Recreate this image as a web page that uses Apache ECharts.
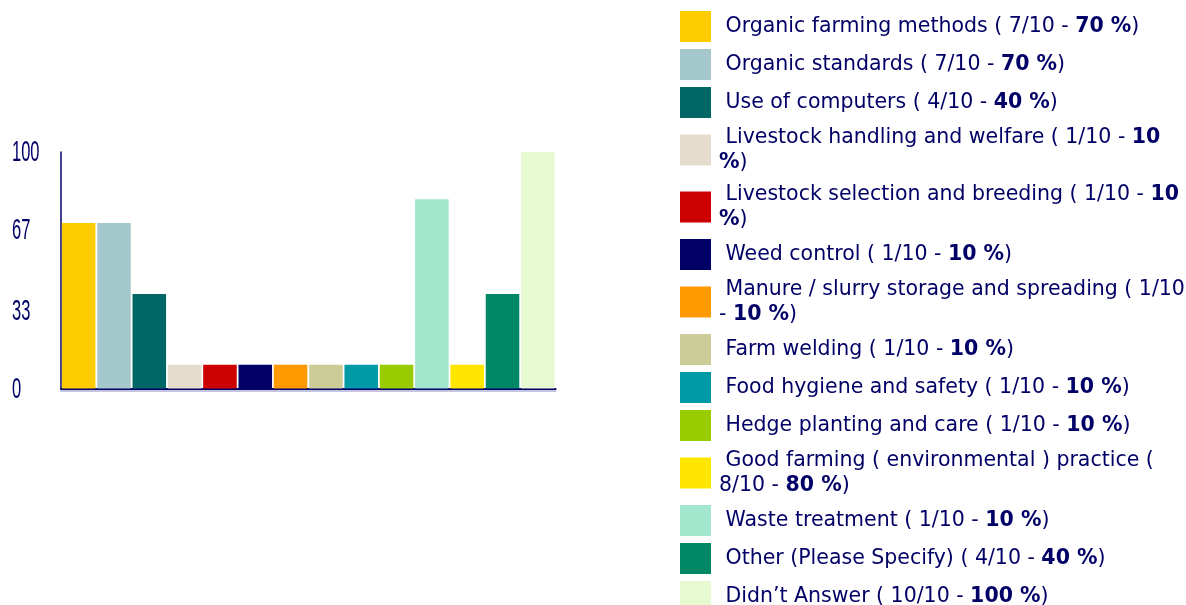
<!DOCTYPE html>
<html>
<head>
<meta charset="utf-8">
<script src="https://cdn.jsdelivr.net/npm/echarts@6/dist/echarts.min.js"></script>
<style>
html,body{margin:0;padding:0;background:#ffffff;}
#chart{width:1186px;height:605px;}
</style>
</head>
<body>
<div id="chart"></div>
<script>
// ---- data ----
const categories = [
  'Organic farming methods',
  'Organic standards',
  'Use of computers',
  'Livestock handling and welfare',
  'Livestock selection and breeding',
  'Weed control',
  'Manure / slurry storage and spreading',
  'Farm welding',
  'Food hygiene and safety',
  'Hedge planting and care',
  'Good farming ( environmental ) practice',
  'Waste treatment',
  'Other (Please Specify)',
  'Didn\u2019t Answer'
];
const counts = [7, 7, 4, 1, 1, 1, 1, 1, 1, 1, 8, 1, 4, 10];
const respondents = 10;
const percents = [70, 70, 40, 10, 10, 10, 10, 10, 10, 10, 80, 10, 40, 100];
const yTicks = [0, 33, 67, 100];

// ---- palette ----
const legendColors = ['#FFCC00','#A4C8CC','#006666','#E6DCCE','#CC0000','#000066','#FF9900','#CCCC99','#009AA6','#99CC00','#FFE600','#A2E6CE','#008866','#E6F9D0'];
// colours of the bars as they appear in the drawn chart (positions 11 and 12 differ from the legend)
const barColors    = ['#FFCC00','#A4C8CC','#006666','#E6DCCE','#CC0000','#000066','#FF9900','#CCCC99','#009AA6','#99CC00','#A2E6CE','#FFE600','#008866','#E6F9D0'];

const NAVY = '#000066';
const FONT = "'DejaVu Sans', Verdana, sans-serif";
const FS = 20.5;
const LH = 25;
const MAXW = 467;

const ctx = document.createElement('canvas').getContext('2d');
function measureSeq(seq) {
  let total = 0, buf = '', b = null;
  const flush = () => {
    if (!buf) return;
    ctx.font = (b ? 'bold ' : '') + FS + 'px ' + FONT;
    total += ctx.measureText(buf).width;
    buf = '';
  };
  seq.forEach(([ch, bold]) => { if (bold !== b) { flush(); b = bold; } buf += ch; });
  flush();
  return total;
}
function legendText(i) {
  const runs = [[' ' + categories[i] + ' ( ' + counts[i] + '/' + respondents + ' - ', 0], [percents[i] + ' %', 1], [')', 0]];
  const chars = [];
  runs.forEach(([t, bold]) => { for (const ch of t) chars.push([ch, bold]); });
  const words = [];
  let cur = { sep: null, chars: [] };
  chars.forEach(c => {
    if (c[0] === ' ') { words.push(cur); cur = { sep: c, chars: [] }; }
    else cur.chars.push(c);
  });
  words.push(cur);
  const lines = [];
  let line = null;
  words.forEach(wd => {
    if (line === null) { line = wd.chars.slice(); return; }
    const cand = line.concat([wd.sep], wd.chars);
    if (measureSeq(cand) <= MAXW) line = cand;
    else { lines.push(line); line = wd.chars.slice(); }
  });
  lines.push(line);
  return lines.map(l => {
    let out = '', buf = '', b = null;
    const flush = () => { if (buf) out += '{' + (b ? 'b' : 'n') + '|' + buf + '}'; buf = ''; };
    l.forEach(([ch, bold]) => { if (bold !== b) { flush(); b = bold; } buf += ch; });
    flush();
    return out;
  }).join('\n');
}

const chart = echarts.init(document.getElementById('chart'), null, { renderer: 'canvas' });

const option = {
  animation: false,
  backgroundColor: '#ffffff',
  grid: { left: 61, right: 630.5, top: 152, bottom: 216.5, containLabel: false },
  legend: {
    type: 'plain',
    orient: 'vertical',
    left: 680,
    top: 11,
    width: 500,
    height: 700,
    padding: 0,
    itemGap: 7,
    itemWidth: 31,
    itemHeight: 31,
    icon: 'rect',
    selectedMode: false,
    data: categories,
    itemStyle: { borderWidth: 0 },
    formatter: name => legendText(categories.indexOf(name)),
    textStyle: {
      color: NAVY, fontFamily: FONT, fontSize: FS, lineHeight: LH, padding: [0, 0, 0, 3],
      rich: {
        n: { color: NAVY, fontFamily: FONT, fontSize: FS, lineHeight: LH },
        b: { color: NAVY, fontFamily: FONT, fontSize: FS, lineHeight: LH, fontWeight: 'bold' }
      }
    }
  },
  xAxis: {
    type: 'category',
    data: categories,
    axisLine: { show: true, lineStyle: { color: NAVY, width: 2, shadowColor: 'rgba(90,90,170,0.35)', shadowOffsetY: 2, shadowBlur: 0 } },
    axisTick: { show: false },
    axisLabel: { show: false },
    splitLine: { show: false }
  },
  yAxis: {
    type: 'value',
    min: 0,
    max: 100,
    interval: 100 / 3,
    axisLine: { show: true, lineStyle: { color: NAVY, width: 1.5 } },
    axisTick: { show: false },
    axisLabel: { show: false },
    splitLine: { show: false }
  },
  series: categories.map((name, i) => ({
    type: 'bar',
    name: name,
    stack: 'all',
    barCategoryGap: '5%',
    itemStyle: { color: legendColors[i] },
    emphasis: { disabled: true },
    data: categories.map((c, j) => j === i ? { value: percents[j], itemStyle: { color: barColors[j] } } : null)
  }))
};
chart.setOption(option);

// y axis tick labels (tall, narrow digits), placed through the axis scale
chart.setOption({
  graphic: yTicks.map(v => ({
    type: 'text',
    x: 12,
    y: chart.convertToPixel({ yAxisIndex: 0 }, v) + 1,
    scaleX: 0.55,
    silent: true,
    style: {
      text: String(v),
      fontFamily: "'Liberation Sans', Arial, sans-serif",
      fontSize: 30,
      fill: NAVY,
      align: 'left',
      verticalAlign: 'middle'
    }
  }))
});
</script>
</body>
</html>
